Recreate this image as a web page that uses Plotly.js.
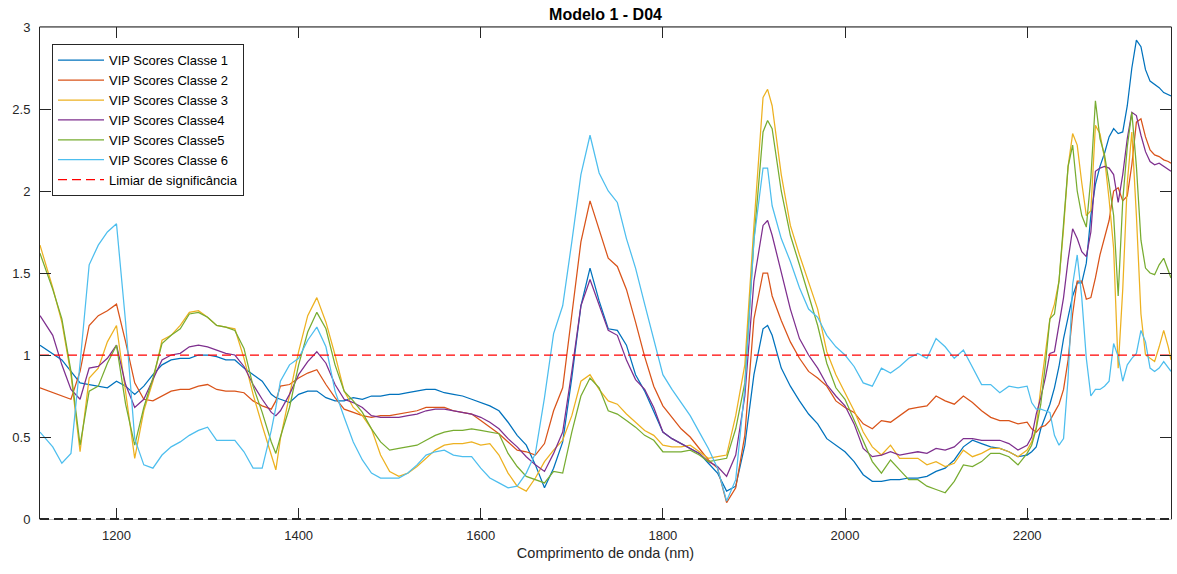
<!DOCTYPE html>
<html>
<head>
<meta charset="utf-8">
<script src="https://cdn.plot.ly/plotly-3.0.1.min.js"></script>
<style>html,body{margin:0;padding:0;background:#fff;}#chart{width:1177px;height:574px;}</style>
</head>
<body>
<div id="chart"></div>
<script>
// Wavelength (nm)
const wavelength = [
1116,1130,1140,1150,1160,1170,1180,1190,1200,1210,1220,1230,1240,1250,1260,1270,1280,1290,1300,1310,1320,1330,
1340,1350,1360,1370,1375,1380,1390,1400,1410,1420,1430,1440,1450,1460,1470,1480,1490,1500,1510,1520,1530,1540,
1550,1560,1570,1580,1590,1600,1610,1620,1630,1640,1650,1660,1670,1680,1690,1700,1710,1720,1730,1740,1750,
1760,1770,1780,1790,1800,1810,1820,1830,1840,1850,1860,1870,1880,1890,1900,1910,1915,1920,1930,1940,1950,1960,
1970,1980,1990,2000,2010,2020,2030,2040,2050,2060,2070,2080,2090,2100,2110,2120,2130,2140,2150,
2160,2170,2180,2190,
2200,2205,2210,2215,2220,2225,2230,2235,2240,2245,2250,2255,2260,2265,2270,2275,2280,2285,2290,2295,2300,2305,2310,2315,2320,2325,2330,2335,2340,2345,2350,2355,2358];

const vipClasse1 = [
1.06,1.01,0.97,0.90,0.83,0.82,0.81,0.80,0.84,0.81,0.76,0.81,0.88,0.94,0.97,0.98,0.98,1.00,1.00,0.99,0.97,0.97,
0.92,0.88,0.84,0.76,0.74,0.73,0.71,0.76,0.78,0.78,0.74,0.72,0.72,0.74,0.73,0.75,0.75,0.76,0.76,0.77,0.78,0.79,
0.79,0.77,0.76,0.75,0.73,0.71,0.69,0.66,0.59,0.51,0.45,0.33,0.19,0.31,0.47,0.86,1.30,1.53,1.33,1.16,1.15,
1.06,0.88,0.78,0.66,0.53,0.49,0.46,0.43,0.40,0.34,0.28,0.17,0.20,0.45,0.88,1.16,1.18,1.12,0.92,0.81,0.72,0.64,
0.58,0.49,0.45,0.41,0.35,0.27,0.23,0.23,0.24,0.24,0.25,0.25,0.26,0.29,0.31,0.36,0.44,0.48,0.46,
0.44,0.43,0.41,0.38,
0.39,0.41,0.44,0.55,0.63,0.70,0.80,0.93,1.10,1.24,1.36,1.44,1.44,1.56,1.85,2.04,2.15,2.23,2.33,2.38,2.35,2.36,2.52,2.75,2.92,2.88,2.74,2.67,2.65,2.63,2.60,2.59,2.58];

const vipClasse2 = [
0.80,0.77,0.75,0.73,0.90,1.18,1.24,1.27,1.31,1.08,0.83,0.73,0.72,0.75,0.78,0.79,0.79,0.81,0.82,0.79,0.78,0.78,
0.77,0.72,0.69,0.67,0.72,0.81,0.82,0.86,0.89,0.91,0.82,0.74,0.67,0.65,0.63,0.62,0.63,0.63,0.64,0.65,0.66,0.68,
0.68,0.68,0.66,0.65,0.64,0.60,0.56,0.52,0.47,0.42,0.41,0.39,0.46,0.66,0.80,1.25,1.69,1.94,1.77,1.59,1.54,
1.40,1.20,0.99,0.81,0.69,0.62,0.55,0.50,0.43,0.36,0.31,0.10,0.19,0.51,1.22,1.50,1.50,1.36,1.21,1.08,0.98,0.90,
0.86,0.81,0.72,0.68,0.65,0.58,0.55,0.60,0.59,0.63,0.67,0.68,0.69,0.75,0.72,0.70,0.75,0.71,0.66,
0.62,0.60,0.60,0.58,
0.59,0.55,0.53,0.56,0.57,0.60,0.65,0.70,0.79,0.97,1.25,1.45,1.45,1.34,1.35,1.47,1.61,1.72,1.82,2.00,2.02,1.94,1.97,2.16,2.42,2.44,2.33,2.25,2.22,2.21,2.19,2.18,2.17];

const vipClasse3 = [
1.67,1.41,1.20,0.88,0.41,0.86,0.92,1.08,1.18,0.78,0.37,0.66,0.84,1.09,1.12,1.18,1.26,1.27,1.23,1.18,1.17,1.16,
0.98,0.76,0.57,0.38,0.30,0.49,0.76,1.02,1.24,1.35,1.20,1.00,0.78,0.68,0.63,0.55,0.39,0.29,0.26,0.28,0.32,0.37,
0.42,0.45,0.46,0.46,0.47,0.45,0.46,0.39,0.28,0.20,0.17,0.25,0.35,0.42,0.48,0.63,0.84,0.88,0.79,0.72,0.70,
0.64,0.59,0.54,0.51,0.45,0.44,0.44,0.45,0.41,0.37,0.38,0.39,0.63,0.94,1.79,2.57,2.62,2.52,2.10,1.79,1.61,1.44,
1.28,1.02,0.88,0.77,0.66,0.53,0.44,0.39,0.45,0.37,0.37,0.37,0.33,0.35,0.32,0.34,0.42,0.38,0.40,
0.43,0.43,0.41,0.38,
0.42,0.47,0.56,0.80,1.00,1.22,1.31,1.45,1.77,2.15,2.35,2.28,2.05,1.85,1.88,2.40,2.35,2.20,1.95,1.65,0.92,1.40,2.05,2.36,1.85,1.25,1.00,0.98,0.96,1.05,1.15,1.05,0.97];

const vipClasse4 = [
1.24,1.12,0.94,0.79,0.73,0.92,0.93,0.98,1.06,0.82,0.68,0.73,0.85,0.97,1.00,1.01,1.05,1.06,1.05,1.03,1.01,1.00,
0.93,0.82,0.73,0.65,0.63,0.66,0.76,0.88,0.96,1.02,0.95,0.82,0.73,0.71,0.68,0.63,0.62,0.62,0.62,0.63,0.64,0.66,
0.67,0.67,0.66,0.65,0.64,0.62,0.59,0.55,0.49,0.44,0.38,0.33,0.29,0.40,0.53,0.90,1.30,1.46,1.31,1.15,1.12,
0.97,0.85,0.79,0.68,0.53,0.49,0.46,0.43,0.40,0.35,0.32,0.26,0.39,0.75,1.45,1.79,1.82,1.73,1.50,1.28,1.10,1.00,
0.92,0.82,0.75,0.69,0.58,0.43,0.38,0.39,0.41,0.39,0.40,0.41,0.40,0.43,0.42,0.44,0.49,0.49,0.48,
0.48,0.48,0.46,0.42,
0.45,0.50,0.64,0.74,0.86,1.01,1.02,1.19,1.35,1.58,1.77,1.71,1.63,1.60,1.75,2.12,2.14,2.15,2.14,2.10,1.93,2.10,2.32,2.48,2.46,2.34,2.24,2.18,2.16,2.17,2.15,2.13,2.12];

const vipClasse5 = [
1.62,1.40,1.22,0.90,0.45,0.78,0.81,0.95,1.06,0.70,0.45,0.68,0.86,1.07,1.12,1.16,1.25,1.26,1.23,1.18,1.17,1.15,
1.04,0.81,0.65,0.47,0.40,0.50,0.68,0.94,1.14,1.26,1.16,0.94,0.78,0.72,0.65,0.55,0.47,0.42,0.43,0.44,0.45,0.48,
0.51,0.53,0.54,0.54,0.55,0.54,0.53,0.52,0.40,0.32,0.26,0.24,0.22,0.29,0.28,0.53,0.75,0.86,0.80,0.66,0.64,
0.60,0.56,0.51,0.48,0.41,0.41,0.41,0.42,0.39,0.35,0.36,0.37,0.55,0.83,1.70,2.36,2.43,2.38,2.00,1.73,1.55,1.36,
1.18,0.95,0.80,0.73,0.60,0.47,0.35,0.28,0.36,0.30,0.24,0.24,0.20,0.18,0.16,0.23,0.33,0.32,0.35,
0.40,0.40,0.38,0.33,
0.40,0.45,0.55,0.70,0.94,1.22,1.25,1.45,1.80,2.15,2.28,2.00,1.85,1.78,2.08,2.55,2.32,2.22,2.05,1.85,1.36,1.94,2.27,2.48,2.15,1.70,1.53,1.50,1.49,1.55,1.59,1.52,1.47];

const vipClasse6 = [
0.53,0.44,0.34,0.40,0.95,1.55,1.67,1.75,1.80,1.20,0.49,0.33,0.31,0.39,0.44,0.47,0.51,0.54,0.56,0.48,0.48,0.48,
0.41,0.31,0.31,0.54,0.68,0.84,0.94,0.98,1.09,1.17,1.05,0.78,0.62,0.47,0.36,0.28,0.25,0.25,0.25,0.28,0.33,0.39,
0.41,0.42,0.39,0.38,0.38,0.31,0.25,0.22,0.19,0.20,0.28,0.40,0.74,1.13,1.30,1.69,2.10,2.34,2.11,2.00,1.93,
1.71,1.53,1.31,1.09,0.88,0.79,0.71,0.63,0.53,0.43,0.31,0.11,0.24,0.80,1.70,2.14,2.14,1.91,1.71,1.57,1.41,1.28,
1.23,1.12,1.05,1.00,0.93,0.83,0.81,0.92,0.89,0.93,0.98,1.01,0.98,1.10,1.05,0.98,1.03,0.92,0.82,
0.82,0.77,0.81,0.80,
0.81,0.71,0.67,0.67,0.66,0.65,0.51,0.45,0.49,0.86,1.43,1.61,1.35,0.98,0.75,0.79,0.79,0.81,0.84,1.07,0.99,0.84,0.94,0.98,1.01,1.15,1.08,0.92,0.90,0.92,0.96,0.92,0.90];

const seriesNames = ['VIP Scores Classe 1','VIP Scores Classe 2','VIP Scores Classe 3','VIP Scores Classe4','VIP Scores Classe5','VIP Scores Classe 6'];
const thresholdName = 'Limiar de significância';
const threshold = 1;
const xTicks = [1200,1400,1600,1800,2000,2200];
const yTicks = [0,0.5,1,1.5,2,2.5,3];
const yTickText = ['0','0.5','1','1.5','2','2.5','3'];

const colors = ['#0072BD','#D95319','#EDB120','#7E2F8E','#77AC30','#4DBEEE'];
const allSeries = [vipClasse1,vipClasse2,vipClasse3,vipClasse4,vipClasse5,vipClasse6];
const FONT = 'Liberation Sans, Arial, Helvetica, sans-serif';
const AX = '#262626';

const traces = allSeries.map((ys,i)=>({
  type:'scatter', mode:'lines', x:wavelength, y:ys, name:seriesNames[i],
  line:{color:colors[i], width:1.25}, hoverinfo:'skip'
}));
const xMin = wavelength[0], xMax = wavelength[wavelength.length-1];
traces.push({
  type:'scatter', mode:'lines', x:[xMin,xMax], y:[threshold,threshold], name:thresholdName,
  line:{color:'#FF0000', width:1.25, dash:'9px,5px'}, hoverinfo:'skip'
});

const layout = {
  width:1177, height:574,
  margin:{l:40, r:6, t:27, b:55},
  paper_bgcolor:'#ffffff', plot_bgcolor:'#ffffff',
  font:{family:FONT, size:13, color:AX},
  title:{text:'<b>Modelo 1 - D04</b>', font:{family:FONT, size:16, color:'#000'},
         x:0.5, xref:'paper', xanchor:'center', y:1-14/574, yref:'container', yanchor:'middle'},
  xaxis:{range:[xMin,xMax], tickvals:xTicks, ticks:'inside', ticklen:11, tickwidth:1, tickcolor:AX,
         showline:true, linecolor:'#bdbdbd', linewidth:1, mirror:'allticks', showgrid:false, zeroline:false,
         tickfont:{size:13, color:AX}, ticklabelstandoff:4,
         title:{text:'Comprimento de onda (nm)', font:{size:14.5, color:AX}, standoff:6}},
  yaxis:{range:[0,3], tickvals:yTicks, ticktext:yTickText, ticks:'inside', ticklen:11, tickwidth:1, tickcolor:AX,
         showline:true, linecolor:AX, linewidth:1, mirror:'allticks', showgrid:false, zeroline:false,
         tickfont:{size:13, color:AX}, ticklabelstandoff:6},
  showlegend:true,
  legend:{x:(52-40)/1131, y:(519.3-44)/492.6, xanchor:'left', yanchor:'top',
          bgcolor:'#ffffff', bordercolor:AX, borderwidth:1, font:{size:13, color:'#000'},
          tracegroupgap:0, itemwidth:46},
  shapes:[
    {type:'line', xref:'paper', yref:'paper', x0:0, x1:1, y0:1, y1:1, line:{color:AX, width:1}, layer:'above'},
    {type:'line', xref:'paper', yref:'paper', x0:0, x1:1, y0:0, y1:0, line:{color:AX, width:2, dash:'9px,5px'}, layer:'above'}
  ]
};

Plotly.newPlot('chart', traces, layout, {displayModeBar:false, staticPlot:true});
</script>
</body>
</html>
